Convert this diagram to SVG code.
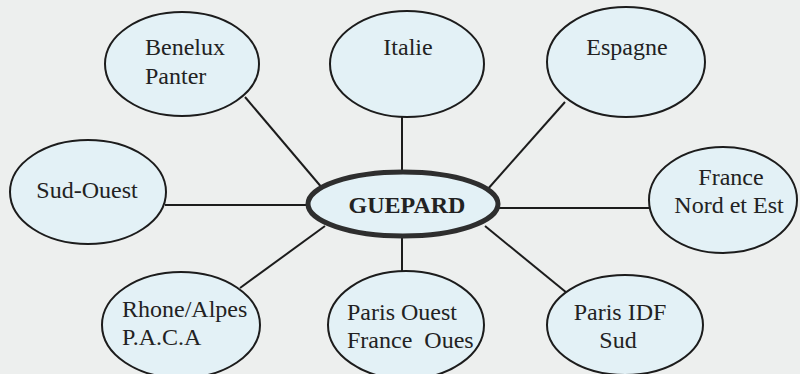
<svg xmlns="http://www.w3.org/2000/svg" width="800" height="374" viewBox="0 0 800 374">
<style>
.n{fill:#e3f1f6;stroke:#1c1c1c;stroke-width:2}
.hub{fill:#e3f1f6;stroke:#2e2e2e;stroke-width:5}
text{font-family:'Liberation Serif','Times New Roman',serif;font-size:24px;fill:#222}
.c{text-anchor:middle}
.b{font-weight:bold}
.e{stroke:#1c1c1c;stroke-width:2;fill:none}
</style>
<rect width="800" height="374" fill="#edefee"/>
<g id="connectors">
<line class="e" x1="245" y1="97" x2="323" y2="189"/>
<line class="e" x1="402" y1="117" x2="402" y2="173"/>
<line class="e" x1="565" y1="102" x2="487" y2="190"/>
<line class="e" x1="165" y1="205" x2="310" y2="205"/>
<line class="e" x1="497" y1="208" x2="650" y2="208"/>
<line class="e" x1="240" y1="288" x2="325" y2="226"/>
<line class="e" x1="402" y1="235" x2="402" y2="271"/>
<line class="e" x1="485" y1="226" x2="567" y2="293"/>
</g>
<g id="benelux"><ellipse class="n" cx="182" cy="64" rx="77" ry="52"/><text x="145" y="55">Benelux</text><text x="145" y="84">Panter</text></g>
<g id="italie"><ellipse class="n" cx="407" cy="64" rx="77" ry="53"/><text class="c" x="408" y="55">Italie</text></g>
<g id="espagne"><ellipse class="n" cx="626" cy="62" rx="79" ry="55"/><text class="c" x="627" y="55">Espagne</text></g>
<g id="sud-ouest"><ellipse class="n" cx="88" cy="192" rx="78" ry="52"/><text class="c" x="87" y="198">Sud-Ouest</text></g>
<g id="france-nord-est"><ellipse class="n" cx="723" cy="200" rx="74" ry="53"/><text class="c" x="731" y="185">France</text><text class="c" x="729" y="213">Nord et Est</text></g>
<g id="rhone-alpes"><ellipse class="n" cx="181" cy="325" rx="79" ry="53"/><text x="122" y="317">Rhone/Alpes</text><text x="122" y="345">P.A.C.A</text></g>
<g id="paris-ouest"><ellipse class="n" cx="406" cy="325" rx="78" ry="54"/><text x="347" y="320">Paris Ouest</text><text x="347" y="348" xml:space="preserve">France  Oues</text></g>
<g id="paris-idf-sud"><ellipse class="n" cx="625" cy="325" rx="78" ry="50"/><text class="c" x="620" y="320">Paris IDF</text><text class="c" x="618" y="348">Sud</text></g>
<g id="guepard"><ellipse class="hub" cx="403" cy="204" rx="95" ry="32"/><text class="c b" x="407" y="213">GUEPARD</text></g>
</svg>
